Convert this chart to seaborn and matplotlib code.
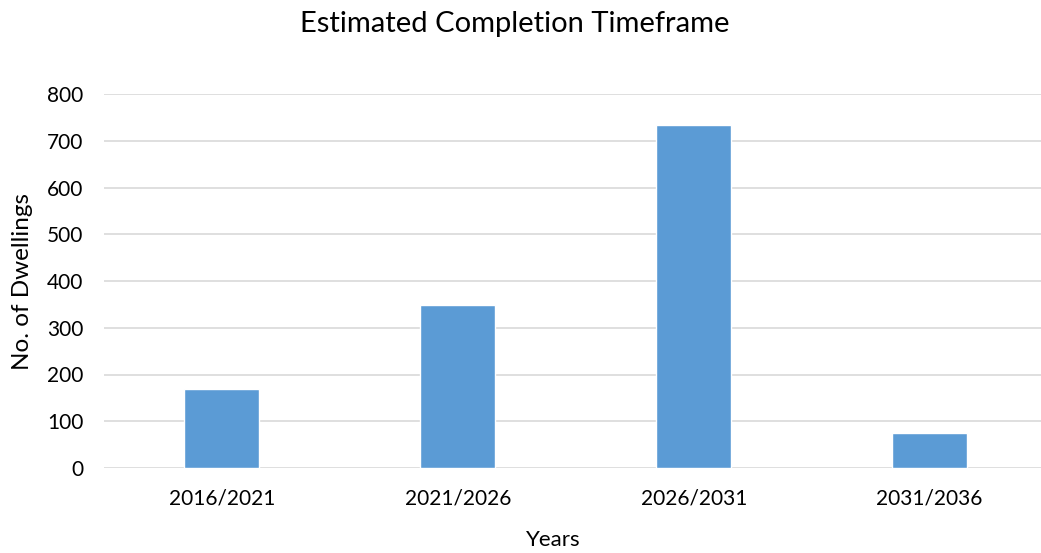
import matplotlib
matplotlib.use("Agg")
import matplotlib.pyplot as plt
import pandas as pd
import seaborn as sns

# values
periods = ["2016/2021", "2021/2026", "2026/2031", "2031/2036"]
dwellings = [169, 349, 734, 74]
y_ticks = [0, 100, 200, 300, 400, 500, 600, 700, 800]

df = pd.DataFrame({"Years": periods, "No. of Dwellings": dwellings})

sns.set_theme(style="white")
plt.rcParams['font.family'] = ['Lato', 'DejaVu Sans']

W, H = 1041, 553
fig = plt.figure(figsize=(W / 100, H / 100), dpi=100)
# axes placed in pixel terms (right edge runs a little past the image edge)
ax_w = 943.5
ax = fig.add_axes([104 / W, (H - 468) / H, ax_w / W, 374 / H])

sns.barplot(data=df, x="Years", y="No. of Dwellings", color="#5B9BD5",
            width=0.318, saturation=1, ax=ax, zorder=3)

ax.set_xlim(-0.5, 3.5)
ax.set_ylim(0, 800)
ax.set_yticks(y_ticks)
ax.grid(axis="y", color="#D9D9D9", linewidth=1.2, zorder=0)
ax.grid(axis="x", visible=False)
for s in ax.spines.values():
    s.set_visible(False)
ax.tick_params(axis="both", length=0, labelsize=15, colors="black")
ax.tick_params(axis="x", pad=15)
ax.tick_params(axis="y", pad=15)

ax.set_xlabel("Years", fontsize=16, color="black", va="center")
ax.xaxis.set_label_coords((553.5 - 104) / ax_w, -72 / 374)
ax.set_ylabel("No. of Dwellings", fontsize=17.5, color="black", va="center")
ax.yaxis.set_label_coords((22.5 - 104) / ax_w, 0.5)
fig.text(515 / W, 1 - 24 / H, "Estimated Completion Timeframe", fontsize=21,
         ha="center", va="center", color="black")

fig.savefig("out.png", dpi=100)
